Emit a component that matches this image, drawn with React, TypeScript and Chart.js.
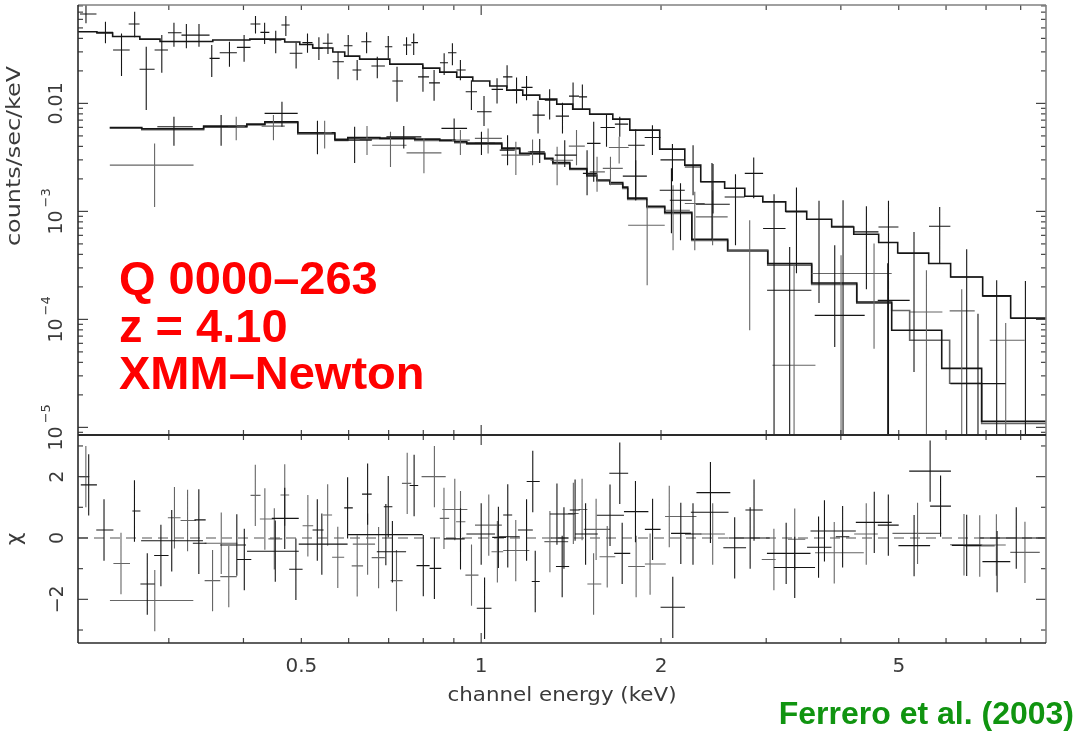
import React, { useEffect, useRef } from "react";
import { Chart, registerables } from "chart.js";

Chart.register(...registerables);

// ---------------- data (keV, counts/sec/keV) ----------------
// pn spectrum (upper)
const pnE = [0.218, 0.235, 0.250, 0.263, 0.275, 0.292, 0.306, 0.321, 0.337, 0.354, 0.379, 0.401, 0.419, 0.434, 0.453, 0.471, 0.490, 0.512, 0.535, 0.554, 0.576, 0.599, 0.620, 0.643, 0.670, 0.699, 0.723, 0.750, 0.771, 0.799, 0.834, 0.867, 0.895, 0.923, 0.963, 1.011, 1.063, 1.105, 1.146, 1.191, 1.245, 1.302, 1.368, 1.425, 1.477, 1.543, 1.621, 1.706, 1.814, 1.935, 2.090, 2.263, 2.444, 2.665, 2.859, 3.092, 3.371, 3.677, 4.034, 4.414, 4.806, 5.303, 5.855, 6.497, 7.293, 8.147];
const pnElo = [0.213, 0.227, 0.242, 0.257, 0.268, 0.284, 0.299, 0.315, 0.332, 0.351, 0.365, 0.390, 0.411, 0.427, 0.442, 0.463, 0.478, 0.502, 0.522, 0.543, 0.564, 0.589, 0.609, 0.630, 0.655, 0.690, 0.710, 0.740, 0.764, 0.784, 0.818, 0.853, 0.880, 0.909, 0.942, 0.984, 1.041, 1.088, 1.128, 1.168, 1.219, 1.278, 1.333, 1.403, 1.458, 1.504, 1.584, 1.674, 1.762, 1.878, 1.996, 2.192, 2.331, 2.556, 2.762, 2.964, 3.232, 3.503, 3.857, 4.204, 4.624, 4.994, 5.618, 6.101, 6.910, 7.699];
const pnEhi = [0.227, 0.242, 0.258, 0.268, 0.284, 0.299, 0.315, 0.332, 0.351, 0.365, 0.390, 0.411, 0.427, 0.442, 0.463, 0.478, 0.502, 0.522, 0.543, 0.564, 0.589, 0.609, 0.630, 0.655, 0.690, 0.710, 0.740, 0.764, 0.784, 0.818, 0.853, 0.880, 0.909, 0.942, 0.984, 1.041, 1.088, 1.128, 1.168, 1.219, 1.278, 1.333, 1.403, 1.458, 1.504, 1.584, 1.674, 1.762, 1.878, 1.996, 2.192, 2.331, 2.556, 2.762, 2.964, 3.232, 3.503, 3.857, 4.204, 4.624, 4.994, 5.618, 6.101, 6.910, 7.699, 8.810];
const pnF = [0.0672, 0.0455, 0.0312, 0.0543, 0.0207, 0.0312, 0.0451, 0.0429, 0.0429, 0.0261, 0.0294, 0.0330, 0.0543, 0.0455, 0.0386, 0.0532, 0.0291, 0.0365, 0.0324, 0.0360, 0.0243, 0.0342, 0.0204, 0.0372, 0.0222, 0.0335, 0.0161, 0.0347, 0.0365, 0.0176, 0.0155, 0.0238, 0.0294, 0.0204, 0.0128, 0.00836, 0.01349, 0.0176, 0.01328, 0.01407, 0.00779, 0.0107, 0.00762, 0.01169, 0.0115, 0.00426, 0.00599, 0.00643, 0.0041, 0.00484, 0.0030, 0.00258, 0.00188, 0.00136, 0.00225, 0.000694, 0.000989, 0.000841, 0.000729, 0.000646, 0.000718, 0.000407, 0.000729, 0.000247, 0.000164, 0.000102];
const pnFlo = [0.0551, 0.0360, 0.0179, 0.0409, 0.00867, 0.0192, 0.0335, 0.0324, 0.0335, 0.0176, 0.0218, 0.0243, 0.0445, 0.0355, 0.0291, 0.0420, 0.0211, 0.0294, 0.0252, 0.0286, 0.0167, 0.0274, 0.0164, 0.0291, 0.0171, 0.0261, 0.01035, 0.0280, 0.0280, 0.0128, 0.01057, 0.0183, 0.0226, 0.0164, 0.00867, 0.00617, 0.0100, 0.0138, 0.0100, 0.0107, 0.00527, 0.00711, 0.00527, 0.00867, 0.00867, 0.00188, 0.00396, 0.0049, 0.00127, 0.00332, 0.0019, 0.00141, 0.000956, 0.000486, 0.00132, 0, 0.000268, 0.000142, 0, 0.00019, 0, 3.25e-5, 0.000331, 0, 0, 0];
const pnFhi = [0.09, 0.0571, 0.0445, 0.0706, 0.0335, 0.0429, 0.0558, 0.0543, 0.0543, 0.0347, 0.0372, 0.0429, 0.0645, 0.0558, 0.0471, 0.0645, 0.0365, 0.0445, 0.0409, 0.0445, 0.0301, 0.0429, 0.0252, 0.0455, 0.0270, 0.0420, 0.0218, 0.0409, 0.0445, 0.0226, 0.0204, 0.0291, 0.0360, 0.0252, 0.0164, 0.01169, 0.0171, 0.0226, 0.0174, 0.0179, 0.01057, 0.01349, 0.01015, 0.01558, 0.0150, 0.00675, 0.00796, 0.00751, 0.00574, 0.00629, 0.0042, 0.0041, 0.00274, 0.00221, 0.00316, 0.00144, 0.001665, 0.001252, 0.00127, 0.001117, 0.001252, 0.000646, 0.0011, 0.000446, 0.00023, 0.000227];

// MOS1 spectrum (lower, black)
const mos1E = [0.306, 0.367, 0.464, 0.532, 0.614, 0.742, 0.901, 1.001, 1.107, 1.253, 1.380, 1.504, 1.814, 2.082, 2.156, 2.434, 3.284, 3.907, 4.792, 6.786];
const mos1Elo = [0.287, 0.343, 0.434, 0.517, 0.569, 0.694, 0.858, 0.976, 1.074, 1.206, 1.328, 1.480, 1.726, 1.990, 2.069, 2.287, 3.010, 3.617, 4.611, 6.101];
const mos1Ehi = [0.329, 0.390, 0.493, 0.547, 0.656, 0.794, 0.947, 1.054, 1.138, 1.278, 1.445, 1.562, 1.894, 2.192, 2.252, 2.607, 3.571, 4.385, 5.215, 7.551];
const mos1F = [0.00607, 0.00607, 0.00808, 0.00534, 0.00457, 0.0049, 0.00587, 0.00426, 0.00369, 0.00356, 0.00332, 0.00225, 0.00212, 0.00157, 0.00127, 0.001166, 0.000186, 0.000109, 0.00015, 2.54e-5];
const mos1Flo = [0.00405, 0.00405, 0.00607, 0.00339, 0.00281, 0.00383, 0.00457, 0.00332, 0.00268, 0.0028, 0.00258, 0.00141, 0.00127, 0.000628, 0.000541, 0.000541, 0, 5.55e-5, 0, 0];
const mos1Fhi = [0.00751, 0.00779, 0.01035, 0.0069, 0.00607, 0.00616, 0.00726, 0.00546, 0.00508, 0.00467, 0.00457, 0.00369, 0.00298, 0.00251, 0.001826, 0.0028, 0.000469, 0.000486, 0.000331, 0.000113];

// MOS2 spectrum (lower, grey)
const mos2E = [0.284, 0.389, 0.449, 0.547, 0.644, 0.705, 0.802, 0.923, 1.027, 1.143, 1.219, 1.340, 1.444, 1.563, 1.646, 1.702, 1.896, 2.095, 2.278, 2.440, 2.815, 3.340, 4.003, 4.546, 5.563, 6.374, 7.551];
const mos2Elo = [0.239, 0.377, 0.429, 0.533, 0.626, 0.657, 0.750, 0.893, 0.976, 1.081, 1.197, 1.306, 1.402, 1.519, 1.598, 1.636, 1.762, 2.029, 2.192, 2.287, 2.586, 3.073, 3.575, 4.236, 5.215, 6.084, 7.100];
const mos2Ehi = [0.330, 0.402, 0.469, 0.562, 0.657, 0.750, 0.858, 0.957, 1.083, 1.206, 1.253, 1.425, 1.491, 1.611, 1.726, 1.766, 2.029, 2.235, 2.367, 2.586, 3.018, 3.627, 4.236, 4.866, 5.916, 6.701, 8.125];
const mos2F = [0.00268, 0.00607, 0.00616, 0.00534, 0.00464, 0.0041, 0.00348, 0.00457, 0.00474, 0.00332, 0.00356, 0.00298, 0.00402, 0.00232, 0.0025, 0.00391, 0.000745, 0.001026, 0.001183, 0.000889, 0.000437, 3.76e-5, 0.000266, 0.000266, 0.000117, 0.00012, 6.4e-5];
const mos2Flo = [0.0011, 0.00457, 0.00457, 0.00383, 0.00332, 0.00258, 0.00226, 0.00332, 0.00344, 0.00217, 0.00268, 0.00175, 0.00268, 0.00152, 0.00175, 0.00278, 0.000207, 0.000437, 0.000437, 0.000486, 7.93e-5, 0, 0, 5.36e-5, 0, 0, 0];
const mos2Fhi = [0.00426, 0.00751, 0.00779, 0.0069, 0.00616, 0.00546, 0.00477, 0.00566, 0.00587, 0.00441, 0.00464, 0.00396, 0.00566, 0.0032, 0.0032, 0.0049, 0.00127, 0.00175, 0.00152, 0.00157, 0.000829, 0.000317, 0.000393, 0.000504, 0.000285, 0.00019, 9.26e-5];

// folded models (bin edges and values)
const pnModelEdges = [0.2114, 0.2274, 0.2416, 0.2683, 0.2900, 0.3554, 0.4100, 0.4690, 0.4970, 0.5224, 0.5645, 0.5910, 0.6260, 0.7031, 0.7985, 0.8525, 0.9101, 0.9681, 1.0337, 1.1037, 1.1739, 1.2532, 1.3382, 1.4230, 1.5194, 1.6609, 1.7734, 1.990, 2.192, 2.331, 2.556, 2.762, 2.961, 3.234, 3.507, 3.861, 4.204, 4.628, 4.980, 5.612, 6.107, 6.910, 7.697, 8.82];
const pnModel = [0.0461, 0.0448, 0.0416, 0.0394, 0.0374, 0.0386, 0.0394, 0.0370, 0.0351, 0.0326, 0.0299, 0.0274, 0.0257, 0.0231, 0.0212, 0.0195, 0.0175, 0.0161, 0.01447, 0.01328, 0.01194, 0.01096, 0.00985, 0.00886, 0.00796, 0.00715, 0.00566, 0.00377, 0.00268, 0.00188, 0.00164, 0.00138, 0.001224, 0.001004, 0.000847, 0.000718, 0.000615, 0.000515, 0.000412, 0.000329, 0.000247, 0.000165, 0.000103];
const mos1ModelEdges = [0.2389, 0.2703, 0.3431, 0.4052, 0.4344, 0.4932, 0.5689, 0.5980, 0.6767, 0.7743, 0.8525, 0.9033, 0.9460, 1.0826, 1.1602, 1.2776, 1.3178, 1.4071, 1.5023, 1.5615, 1.6418, 1.7258, 1.7594, 1.8935, 2.029, 2.252, 2.586, 3.018, 3.575, 4.253, 4.866, 5.901, 6.883, 8.82];
const mos1Model = [0.00599, 0.00582, 0.00616, 0.00643, 0.00675, 0.00534, 0.00464, 0.00482, 0.00477, 0.00467, 0.00457, 0.00441, 0.00429, 0.00385, 0.00346, 0.00311, 0.00283, 0.00249, 0.00217, 0.00195, 0.001845, 0.001676, 0.001326, 0.001117, 0.000983, 0.000553, 0.000437, 0.000329, 0.000217, 0.000145, 7.93e-5, 3.52e-5, 1.14e-5];
const mos2ModelEdges = [0.2389, 0.2703, 0.3431, 0.4052, 0.4344, 0.4932, 0.5689, 0.5980, 0.6767, 0.7743, 0.8525, 0.9033, 0.9460, 1.0826, 1.1602, 1.2776, 1.3178, 1.4071, 1.5023, 1.5615, 1.6418, 1.7258, 1.7594, 1.8935, 2.029, 2.252, 2.586, 3.018, 3.575, 4.253, 4.866, 5.215, 6.084, 6.883, 8.82];
const mos2Model = [0.00588, 0.00571, 0.00601, 0.00632, 0.00661, 0.00522, 0.00455, 0.00470, 0.00468, 0.00455, 0.00448, 0.00432, 0.00418, 0.00378, 0.00338, 0.00305, 0.00276, 0.00244, 0.00212, 0.00191, 0.00179, 0.00163, 0.00129, 0.00109, 0.000958, 0.000538, 0.000428, 0.000318, 0.000211, 0.000141, 0.000121, 6.4e-5, 2.56e-5, 1.09e-5];

// residuals (chi), black points
const resBlkE = [0.2203, 0.2337, 0.2628, 0.2761, 0.2910, 0.3034, 0.3368, 0.3368, 0.3899, 0.4013, 0.4522, 0.4690, 0.4896, 0.5317, 0.5411, 0.5976, 0.6925, 0.6455, 0.6989, 0.7102, 0.7722, 0.8000, 0.8350, 0.9234, 1.0132, 1.0, 1.0686, 1.1079, 1.1079, 1.1912, 1.2200, 1.2316, 1.3392, 1.3664, 1.3758, 1.4361, 1.4955, 1.6431, 1.7061, 1.7219, 1.8124, 1.9361, 2.0928, 2.1586, 2.2624, 2.4196, 2.4196, 2.6568, 2.8199, 2.8625, 3.2397, 3.3487, 3.6707, 3.7550, 4.0274, 4.5499, 4.8031, 5.3047, 5.6426, 5.8749, 6.4969, 7.3045, 7.8648];
const resBlkLo = [0.2137, 0.2268, 0.2607, 0.2689, 0.2835, 0.2696, 0.3311, 0.3291, 0.3657, 0.3898, 0.4055, 0.4462, 0.4771, 0.5221, 0.4950, 0.5898, 0.5976, 0.6318, 0.6871, 0.6688, 0.7590, 0.7793, 0.8197, 0.8664, 0.9831, 0.9445, 1.0433, 1.0885, 1.0715, 1.1522, 1.1917, 1.2152, 1.3033, 1.3340, 1.3105, 1.4071, 1.4361, 1.5615, 1.6386, 1.6698, 1.7338, 1.8793, 1.9966, 2.0789, 2.1933, 2.2927, 2.2439, 2.5427, 2.5944, 2.7688, 3.0082, 3.0903, 3.5114, 3.5585, 3.9225, 4.2378, 4.6123, 4.9938, 5.2057, 5.6426, 6.1339, 6.9034, 6.8323];
const resBlkHi = [0.2274, 0.2423, 0.2689, 0.2842, 0.2997, 0.3422, 0.3458, 0.3469, 0.4040, 0.4123, 0.4950, 0.4950, 0.5024, 0.5447, 0.5976, 0.6097, 0.7982, 0.6557, 0.7102, 0.7487, 0.7845, 0.8197, 0.8574, 0.9384, 1.0405, 1.0546, 1.1003, 1.1269, 1.1602, 1.2203, 1.2532, 1.2532, 1.4322, 1.4036, 1.4015, 1.4622, 1.5672, 1.7338, 1.7621, 1.7765, 1.9050, 1.9966, 2.1933, 2.2439, 2.3360, 2.6124, 2.5944, 2.7758, 3.0409, 2.9606, 3.5585, 3.6213, 3.8582, 4.2378, 4.1330, 4.866, 4.9995, 5.6426, 6.1143, 6.1143, 6.8764, 7.6858, 8.81];
const resBlkChi = [1.73, 0.26, 0.88, -1.5, -0.57, -0.09, 0.59, -0.17, -0.23, -0.70, -0.43, 0.64, -1.02, 0.26, -0.2, 0.98, 0.11, 1.43, 1.02, -0.45, 1.71, -0.90, -0.99, -0.03, -2.29, 0.13, 0.02, 0.75, 0.04, 0.26, 1.84, -1.42, 0.78, -0.93, 0, 0.91, 0.13, 0.74, 2.11, -0.5, 0.86, 0.28, -2.26, 0.15, 0.13, 1.48, 0.84, -0.32, 0, 0.91, -0.5, -0.96, -0.3, 0.23, 0.04, 0.51, 0.42, -0.25, 2.18, 1.04, -0.24, -0.77, 0];

// residuals (chi), grey points
const resGryE = [0.2179, 0.2495, 0.2842, 0.3066, 0.3225, 0.3551, 0.3672, 0.3780, 0.4187, 0.4344, 0.4505, 0.4690, 0.5127, 0.5534, 0.5754, 0.6201, 0.6455, 0.6734, 0.7215, 0.7519, 0.8350, 0.8664, 0.9033, 0.9234, 0.9634, 1.0297, 1.0644, 1.1426, 1.3033, 1.4265, 1.4754, 1.5423, 1.5573, 1.6255, 1.8170, 1.9175, 2.0646, 2.4409, 3.0903, 3.3487, 3.8994, 4.4113, 5.3759, 6.4297, 6.8323, 7.2844, 8.1327];
const resGryLo = [0.2129, 0.2423, 0.2391, 0.2989, 0.3139, 0.3444, 0.3444, 0.3658, 0.4111, 0.4261, 0.4403, 0.4613, 0.5024, 0.5432, 0.5629, 0.6071, 0.6097, 0.6557, 0.7054, 0.7368, 0.7947, 0.8525, 0.8608, 0.9078, 0.9409, 0.9763, 1.0405, 1.0885, 1.2757, 1.3982, 1.4555, 1.5057, 1.4849, 1.5780, 1.7621, 1.8793, 2.0314, 2.3301, 2.9489, 3.2612, 3.6213, 4.2106, 4.8801, 6.0928, 6.4475, 6.8323, 7.6858];
const resGryHi = [0.2208, 0.2583, 0.3297, 0.3139, 0.3333, 0.3658, 0.3908, 0.3898, 0.4272, 0.4522, 0.4645, 0.4771, 0.5234, 0.5629, 0.5898, 0.6343, 0.6643, 0.6899, 0.7388, 0.7638, 0.8722, 0.8839, 0.9482, 0.9409, 0.9896, 1.0830, 1.0885, 1.2041, 1.3982, 1.4555, 1.5057, 1.5888, 1.6431, 1.6768, 1.8793, 2.0370, 2.2927, 2.5587, 3.1110, 3.4877, 4.3695, 4.6123, 5.8913, 6.9034, 7.2376, 7.5525, 8.6103];
const resGryChi = [2.0, -0.83, -2.04, 0.66, 0.57, -1.39, -0.17, -1.26, 1.39, 0.62, -0.03, 1.40, 0.40, 0.75, -0.63, -0.91, -0.2, -0.64, -1.39, 1.78, 2.0, 0.64, 0.93, 0.53, -1.21, 0.42, -0.45, -0.41, -0.12, 0.8, 0.93, -1.5, 0.28, -0.61, -0.93, -0.85, 0.7, 0.13, -0.70, -0.04, -0.48, 0.13, 0.15, -0.22, -0.26, -0.23, -0.47];
const chiErr = 1;

// axes / labels
const X_MIN = 0.2114;
const X_MAX = 8.82;
const Y_MIN = 8.5e-6;
const Y_MAX = 0.0815;
const CHI_MIN = -3.423;
const CHI_MAX = 3.357;
const xTickValues = [0.5, 1, 2, 5];
const xTickLabels = ["0.5", "1", "2", "5"];
const yTickValues = [0.01, 1e-3, 1e-4, 1e-5];
const yTickBase = ["0.01", "10", "10", "10"];
const yTickExp = ["", "\u22123", "\u22124", "\u22125"];
const chiTickValues = [2, 0, -2];
const chiTickLabels = ["2", "0", "\u22122"];
const yTitle = "counts/sec/keV";
const chiTitle = "\u03c7";
const xTitle = "channel energy (keV)";
const annotationLines = ["Q 0000\u2013263", "z = 4.10", "XMM\u2013Newton"];
const creditText = "Ferrero et al. (2003)";

// ---------------- layout / style ----------------
const W = 1077;
const H = 734;
const PLOT_LEFT = 78;
const PLOT_RIGHT = 1046;
const TOP_TOP = 5;
const SPLIT = 435;
const BOT_BOTTOM = 643;
const BLACK = "#161616";
const GREY = "#666666";
const FRAME_DARK = "#2a2a2a";
const FRAME_LIGHT = "#808080";
const TICK_COLOR = "#444444";
const LABEL_COLOR = "#3a3a3a";
const LABEL_FONT = "'DejaVu Sans', Verdana, sans-serif";
const LOG_FLOOR = 1e-9;

type P = { x: number; y: number | null };

function crosses(E: number[], lo: number[], hi: number[], v: number[], vlo: number[], vhi: number[], floor: number): P[] {
  const out: P[] = [];
  for (let i = 0; i < E.length; i++) {
    out.push({ x: lo[i], y: v[i] }, { x: hi[i], y: v[i] }, { x: hi[i], y: null });
    out.push({ x: E[i], y: Math.max(vlo[i], floor) }, { x: E[i], y: vhi[i] }, { x: E[i], y: null });
  }
  return out;
}

function steps(edges: number[], vals: number[]): P[] {
  const out: P[] = [];
  for (let i = 0; i < vals.length; i++) {
    out.push({ x: edges[i], y: vals[i] }, { x: edges[i + 1], y: vals[i] });
  }
  return out;
}

function lineSet(data: P[], color: string, width: number, dash: number[] = []) {
  return {
    data,
    showLine: true,
    borderColor: color,
    borderWidth: width,
    borderDash: dash,
    pointRadius: 0,
    pointHoverRadius: 0,
    spanGaps: false,
    fill: false,
    tension: 0,
    borderJoinStyle: "miter" as const,
    borderCapStyle: "butt" as const,
  };
}

function seg(ctx: CanvasRenderingContext2D, x1: number, y1: number, x2: number, y2: number) {
  ctx.beginPath();
  ctx.moveTo(x1, y1);
  ctx.lineTo(x2, y2);
  ctx.stroke();
}

function logTicks(min: number, max: number) {
  const out: { v: number; major: boolean }[] = [];
  for (let d = Math.floor(Math.log10(min)); d <= Math.ceil(Math.log10(max)); d++) {
    for (let k = 1; k <= 9; k++) {
      const v = k * Math.pow(10, d);
      if (v >= min * 0.9999 && v <= max * 1.0001) out.push({ v, major: k === 1 });
    }
  }
  return out;
}

function rotatedText(ctx: CanvasRenderingContext2D, text: string, bx: number, cy: number, font: string, color: string, targetLen?: number) {
  ctx.save();
  ctx.translate(bx, cy);
  ctx.rotate(-Math.PI / 2);
  ctx.font = font;
  ctx.fillStyle = color;
  ctx.textAlign = "center";
  ctx.textBaseline = "alphabetic";
  if (targetLen) {
    const w = ctx.measureText(text).width;
    ctx.scale(targetLen / w, 1);
  }
  ctx.fillText(text, 0, 0);
  ctx.restore();
}

function rotatedPower(ctx: CanvasRenderingContext2D, base: string, exp: string, bx: number, cy: number) {
  ctx.save();
  ctx.translate(bx, cy);
  ctx.rotate(-Math.PI / 2);
  ctx.fillStyle = LABEL_COLOR;
  ctx.textAlign = "left";
  ctx.textBaseline = "alphabetic";
  const baseFont = `19px ${LABEL_FONT}`;
  const supFont = `13px ${LABEL_FONT}`;
  ctx.font = baseFont;
  const wb = ctx.measureText(base).width;
  ctx.font = supFont;
  const gap = exp ? 3 : 0;
  const we = exp ? ctx.measureText(exp).width : 0;
  const start = -(wb + gap + we) / 2;
  ctx.font = baseFont;
  ctx.fillText(base, start, 0);
  if (exp) {
    ctx.font = supFont;
    ctx.fillText(exp, start + wb + gap, -12);
  }
  ctx.restore();
}

const topDecor = {
  id: "topDecor",
  afterDraw(chart: any) {
    const { ctx, chartArea: a, scales } = chart;
    const xs = scales.x;
    const ys = scales.y;
    ctx.save();
    ctx.lineCap = "butt";
    ctx.strokeStyle = TICK_COLOR;
    ctx.lineWidth = 1.2;
    for (const t of logTicks(X_MIN, X_MAX)) {
      const px = xs.getPixelForValue(t.v);
      const L = t.major ? 10 : 5;
      seg(ctx, px, a.top, px, a.top + L);
      seg(ctx, px, a.bottom, px, a.bottom - L);
    }
    for (const t of logTicks(Y_MIN, Y_MAX)) {
      const py = ys.getPixelForValue(t.v);
      const L = t.major ? 10 : 5;
      seg(ctx, a.left, py, a.left + L, py);
      seg(ctx, a.right, py, a.right - L, py);
    }
    ctx.lineWidth = 1.6;
    ctx.strokeStyle = FRAME_LIGHT;
    seg(ctx, a.left, a.top, a.right, a.top);
    seg(ctx, a.right, a.top, a.right, a.bottom);
    ctx.strokeStyle = FRAME_DARK;
    seg(ctx, a.left, a.top, a.left, a.bottom);
    ctx.lineWidth = 2;
    seg(ctx, a.left, a.bottom, a.right, a.bottom);

    for (let i = 0; i < yTickValues.length; i++) {
      rotatedPower(ctx, yTickBase[i], yTickExp[i], 62, ys.getPixelForValue(yTickValues[i]));
    }
    rotatedText(ctx, yTitle, 20, 156, `20px ${LABEL_FONT}`, LABEL_COLOR, 180);

    ctx.fillStyle = "#ff0000";
    ctx.font = "bold 47px 'Liberation Sans', Arial, Helvetica, sans-serif";
    ctx.textAlign = "left";
    ctx.textBaseline = "alphabetic";
    annotationLines.forEach((s, i) => ctx.fillText(s, 119, 294 + i * 47.5));
    ctx.restore();
  },
};

const bottomDecor = {
  id: "bottomDecor",
  afterDraw(chart: any) {
    const { ctx, chartArea: a, scales } = chart;
    const xs = scales.x;
    const ys = scales.y;
    ctx.save();
    ctx.lineCap = "butt";
    ctx.strokeStyle = TICK_COLOR;
    ctx.lineWidth = 1.2;
    for (const t of logTicks(X_MIN, X_MAX)) {
      const px = xs.getPixelForValue(t.v);
      const L = t.major ? 10 : 5;
      seg(ctx, px, a.top, px, a.top + L);
      seg(ctx, px, a.bottom, px, a.bottom - L);
    }
    for (let c = Math.ceil(CHI_MIN); c <= Math.floor(CHI_MAX); c++) {
      const py = ys.getPixelForValue(c);
      const L = c % 2 === 0 ? 10 : 5;
      seg(ctx, a.left, py, a.left + L, py);
      seg(ctx, a.right, py, a.right - L, py);
    }
    ctx.lineWidth = 1.6;
    ctx.strokeStyle = FRAME_LIGHT;
    seg(ctx, a.right, a.top, a.right, a.bottom);
    ctx.strokeStyle = FRAME_DARK;
    seg(ctx, a.left, a.top, a.left, a.bottom);
    seg(ctx, a.left, a.bottom, a.right, a.bottom);
    ctx.lineWidth = 2;
    seg(ctx, a.left, a.top, a.right, a.top);

    // x tick labels
    ctx.fillStyle = LABEL_COLOR;
    ctx.font = `20px ${LABEL_FONT}`;
    ctx.textAlign = "center";
    ctx.textBaseline = "alphabetic";
    xTickValues.forEach((v, i) => ctx.fillText(xTickLabels[i], xs.getPixelForValue(v), 672));

    // x title (stretched to reference width)
    ctx.save();
    ctx.font = `19px ${LABEL_FONT}`;
    const tw = ctx.measureText(xTitle).width;
    ctx.translate(562, 701);
    ctx.scale(229 / tw, 1);
    ctx.fillText(xTitle, 0, 0);
    ctx.restore();

    // chi tick labels & title
    chiTickValues.forEach((v, i) => rotatedText(ctx, chiTickLabels[i], 63, ys.getPixelForValue(v), `19px ${LABEL_FONT}`, LABEL_COLOR));
    rotatedText(ctx, chiTitle, 21, 539, `22px ${LABEL_FONT}`, LABEL_COLOR);

    // credit
    ctx.fillStyle = "#109410";
    ctx.font = "bold 32px 'Liberation Sans', Arial, Helvetica, sans-serif";
    ctx.textAlign = "right";
    ctx.fillText(creditText, 1074, 724);
    ctx.restore();
  },
};

export default function App() {
  const topRef = useRef<HTMLCanvasElement | null>(null);
  const botRef = useRef<HTMLCanvasElement | null>(null);

  useEffect(() => {
    if (!topRef.current || !botRef.current) return;
    const common = {
      animation: false as const,
      responsive: false,
      devicePixelRatio: 1,
      events: [] as any[],
      plugins: { legend: { display: false }, tooltip: { enabled: false }, title: { display: false } },
    };

    const top = new Chart(topRef.current, {
      type: "scatter",
      data: {
        datasets: [
          lineSet(crosses(pnE, pnElo, pnEhi, pnF, pnFlo, pnFhi, LOG_FLOOR), BLACK, 1.1),
          lineSet(crosses(mos1E, mos1Elo, mos1Ehi, mos1F, mos1Flo, mos1Fhi, LOG_FLOOR), BLACK, 1.1),
          lineSet(crosses(mos2E, mos2Elo, mos2Ehi, mos2F, mos2Flo, mos2Fhi, LOG_FLOOR), GREY, 1.1),
          lineSet(steps(pnModelEdges, pnModel), BLACK, 1.6),
          lineSet(steps(mos1ModelEdges, mos1Model), BLACK, 1.6),
          lineSet(steps(mos2ModelEdges, mos2Model), GREY, 1.6),
        ] as any,
      },
      options: {
        ...common,
        layout: { padding: { left: PLOT_LEFT, right: W - PLOT_RIGHT, top: TOP_TOP, bottom: H - SPLIT } },
        scales: {
          x: { type: "logarithmic", min: X_MIN, max: X_MAX, display: false },
          y: { type: "logarithmic", min: Y_MIN, max: Y_MAX, display: false },
        },
      } as any,
      plugins: [topDecor],
    });

    const bottom = new Chart(botRef.current, {
      type: "scatter",
      data: {
        datasets: [
          lineSet(crosses(resBlkE, resBlkLo, resBlkHi, resBlkChi, resBlkChi.map((c) => c - chiErr), resBlkChi.map((c) => c + chiErr), -Infinity), BLACK, 1.1),
          lineSet(crosses(resGryE, resGryLo, resGryHi, resGryChi, resGryChi.map((c) => c - chiErr), resGryChi.map((c) => c + chiErr), -Infinity), GREY, 1.1),
          lineSet([{ x: X_MIN, y: 0 }, { x: X_MAX, y: 0 }], "#555555", 1.1, [10, 6]),
        ] as any,
      },
      options: {
        ...common,
        layout: { padding: { left: PLOT_LEFT, right: W - PLOT_RIGHT, top: SPLIT, bottom: H - BOT_BOTTOM } },
        scales: {
          x: { type: "logarithmic", min: X_MIN, max: X_MAX, display: false },
          y: { type: "linear", min: CHI_MIN, max: CHI_MAX, display: false },
        },
      } as any,
      plugins: [bottomDecor],
    });

    return () => {
      top.destroy();
      bottom.destroy();
    };
  }, []);

  const cs: React.CSSProperties = { position: "absolute", left: 0, top: 0, width: W, height: H };
  return (
    <div style={{ position: "absolute", left: 0, top: 0, width: W, height: H, background: "#ffffff", overflow: "hidden" }}>
      <canvas ref={topRef} width={W} height={H} style={cs} />
      <canvas ref={botRef} width={W} height={H} style={cs} />
    </div>
  );
}
